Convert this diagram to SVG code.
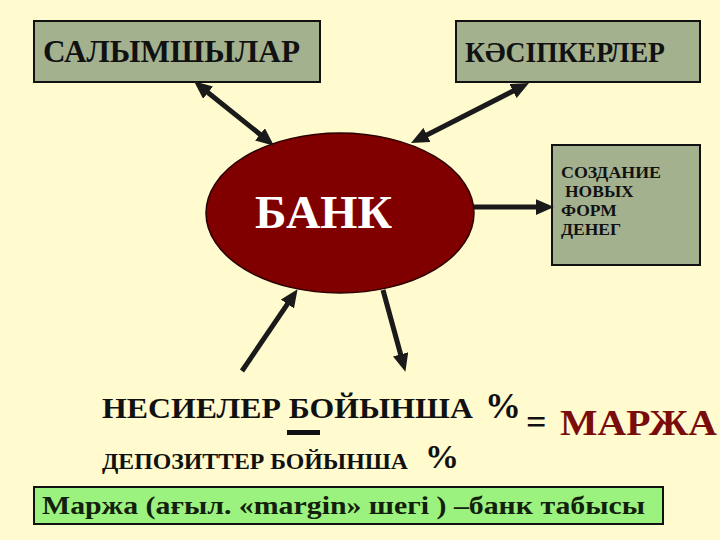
<svg xmlns="http://www.w3.org/2000/svg" width="720" height="540" viewBox="0 0 720 540">
<style>
.box{fill:#A3B18F;stroke:#111;stroke-width:2}
.conn{stroke:#1a1a1a;stroke-width:5;fill:none}
</style>
<defs>
<marker id="ah" markerUnits="userSpaceOnUse" markerWidth="18" markerHeight="16" refX="8" refY="7" orient="auto-start-reverse" viewBox="0 0 16 14">
<path d="M0,0 L16,7 L0,14 z" fill="#1a1a1a"/>
</marker>
</defs>
<rect width="720" height="540" fill="#FFFBCF"/>
<g font-family="'Liberation Serif', 'Times New Roman', 'DejaVu Serif', serif" font-weight="bold" fill="#111">
<g id="salymshylar">
<rect class="box" x="34" y="21" width="286" height="61"/>
<text x="43" y="62" font-size="31" textLength="257" lengthAdjust="spacingAndGlyphs">САЛЫМШЫЛАР</text>
</g>
<g id="kasipkerler">
<rect class="box" x="456" y="21" width="244" height="61"/>
<text x="465" y="62" font-size="29" textLength="200" lengthAdjust="spacingAndGlyphs">КӘСІПКЕРЛЕР</text>
</g>
<g id="bank">
<ellipse cx="340" cy="213" rx="134" ry="80" fill="#800000" stroke="#2a0000" stroke-width="1.5"/>
<text x="255" y="228" font-size="47" fill="#fff" textLength="137" lengthAdjust="spacingAndGlyphs">БАНК</text>
</g>
<g id="sozdanie">
<rect class="box" x="552" y="145" width="148" height="120"/>
<text font-size="17.5">
<tspan x="561" y="178" textLength="100" lengthAdjust="spacingAndGlyphs">СОЗДАНИЕ</tspan>
<tspan x="565" y="197">НОВЫХ</tspan>
<tspan x="561" y="216">ФОРМ</tspan>
<tspan x="561" y="235">ДЕНЕГ</tspan>
</text>
</g>
<g id="connectors">
<line class="conn" x1="201" y1="87" x2="267" y2="140" marker-start="url(#ah)" marker-end="url(#ah)"/>
<line class="conn" x1="521" y1="87" x2="419" y2="139" marker-start="url(#ah)" marker-end="url(#ah)"/>
<line class="conn" x1="474" y1="207" x2="545" y2="207" marker-end="url(#ah)"/>
<line class="conn" x1="242" y1="371" x2="292.5" y2="296.6" marker-end="url(#ah)"/>
<line class="conn" x1="383" y1="290" x2="403" y2="363" marker-end="url(#ah)"/>
</g>
<g id="formula">
<text x="102" y="418" font-size="29" textLength="371" lengthAdjust="spacingAndGlyphs">НЕСИЕЛЕР БОЙЫНША</text>
<text x="485" y="418" font-size="36">%</text>
<rect x="287" y="430" width="33" height="5" fill="#111"/>
<text x="102" y="469" font-size="24" textLength="306" lengthAdjust="spacingAndGlyphs">ДЕПОЗИТТЕР БОЙЫНША</text>
<text x="425" y="468" font-size="34">%</text>
<text x="526" y="434" font-size="36">=</text>
<text x="560" y="435" font-size="36" fill="#7B0C0C" textLength="157" lengthAdjust="spacingAndGlyphs">МАРЖА</text>
</g>
<g id="definition">
<rect x="34" y="487" width="629" height="37" fill="#9CF27E" stroke="#111" stroke-width="2"/>
<text x="42" y="514" font-size="25" fill="#12200c" textLength="603" lengthAdjust="spacingAndGlyphs">Маржа (ағыл. «margin» шегі ) –банк табысы</text>
</g>
</g>
</svg>
